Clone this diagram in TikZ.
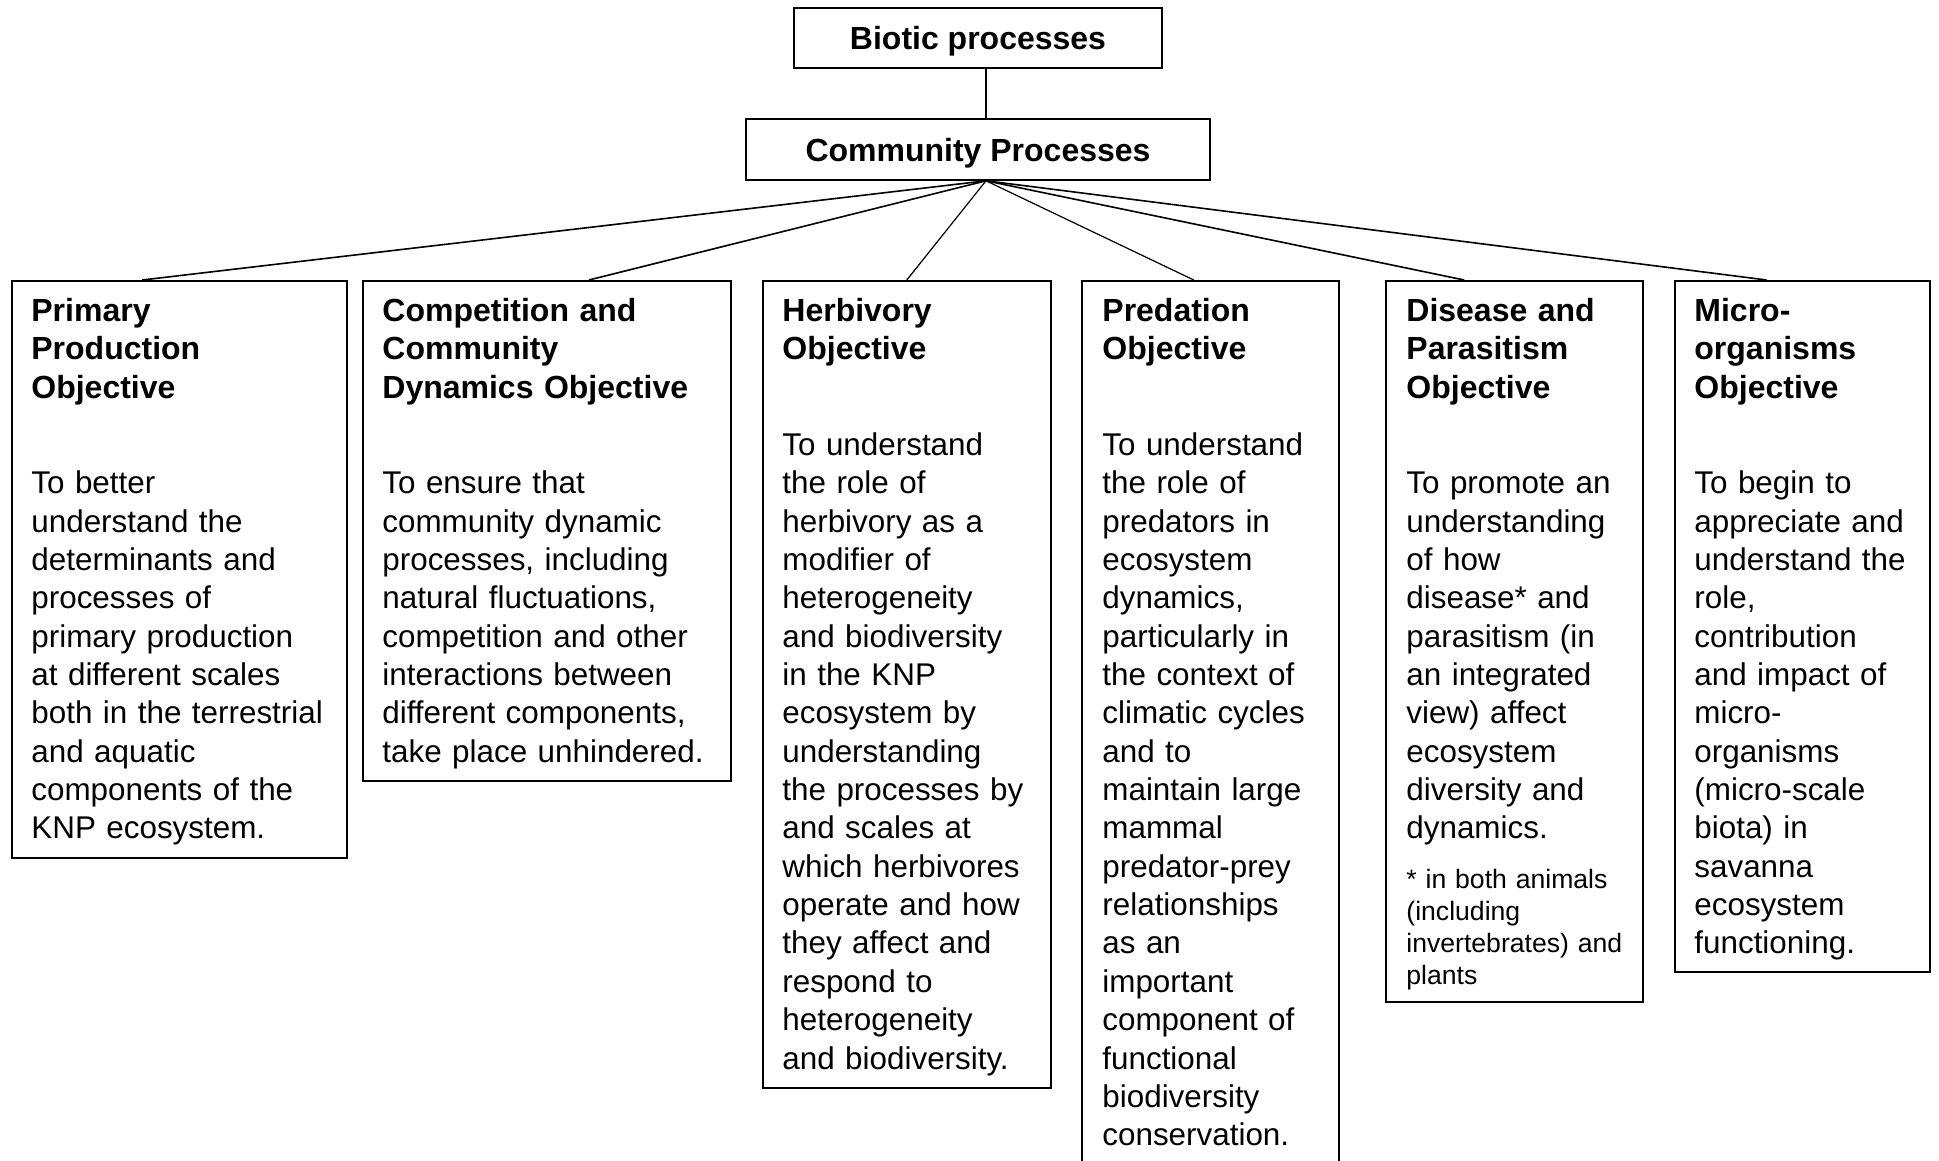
\documentclass[tikz,border=0pt]{standalone}
\usepackage{fontspec}
\setmainfont{Liberation Sans}
\usetikzlibrary{calc}

\newcommand{\objhead}[1]{{\fontsize{16}{19.17}\selectfont\bfseries #1}}

\tikzset{
  headbox/.style={draw, line width=0.8pt, inner sep=0pt, text height=11.8pt, text depth=0pt,
    font=\bfseries\fontsize{16}{19}\selectfont},
  objbox/.style={draw, line width=0.8pt, anchor=north west, inner sep=0pt},
  objtext/.style={anchor=base west, inner sep=0pt, align=left, text width=#1,
    font=\fontsize{15.7}{19.17}\selectfont},
  notetext/.style={anchor=base west, inner sep=0pt, align=left, text width=#1,
    font=\fontsize{13.3}{16}\selectfont},
  link/.style={line width=0.8pt}
}

\begin{document}
\begin{tikzpicture}[x=0.5pt, y=-0.5pt]
    \useasboundingbox (0,0) rectangle (1939,1161);
    \clip (0,0) rectangle (1939,1161);

    % Top of the hierarchy
    \node[headbox, minimum width=184pt, minimum height=30pt] (bio) at (978,38) {Biotic processes};
    \node[headbox, minimum width=232pt, minimum height=30.5pt] (comm) at (978,149.5) {Community Processes};
    \coordinate (hub) at ([xshift=4pt]comm.south);
    \draw[line width=0.6pt] (bio.south -| hub) -- (comm.north -| hub);

    % Objective boxes
    \node[objbox, minimum width=167.5pt, minimum height=288.5pt] (prim) at (11,280) {};
    \node[objbox, minimum width=184pt, minimum height=250pt] (comp) at (362,280) {};
    \node[objbox, minimum width=144pt, minimum height=403.5pt] (herb) at (762,280) {};
    \node[objbox, minimum width=128.5pt, minimum height=445pt] (pred) at (1081,280) {};
    \node[objbox, minimum width=128.5pt, minimum height=360.5pt] (dis) at (1385,280) {};
    \node[objbox, minimum width=127.5pt, minimum height=345.5pt] (micro) at (1674,280) {};

    % Links from the hub
    \draw[link] (hub) -- ($(prim.north west)!0.39!(prim.north east)$);
    \draw[link] (hub) -- ($(comp.north west)!0.614!(comp.north east)$);
    \draw[link, line width=0.6pt] (hub) -- (herb.north);
    \draw[link, line width=0.6pt] (hub) -- ($(pred.north west)!0.436!(pred.north east)$);
    \draw[link] (hub) -- ($(dis.north west)!0.306!(dis.north east)$);
    \draw[link] (hub) -- ($(micro.north west)!0.361!(micro.north east)$);

    % Texts
    \node[objtext=152pt] (primtxt) at ($(prim.north west)+(20,41.5)$) {%
      \objhead{Primary}\\ \objhead{Production}\\ \objhead{Objective}\\[28.7pt]
      To better\\ understand the\\ determinants and\\ processes of\\
      primary production\\ at different scales\\ both in the terrestrial\\
      and aquatic\\ components of the\\ KNP ecosystem.};
    \node[objtext=169pt] (comptxt) at ($(comp.north west)+(20,41.5)$) {%
      \objhead{Competition and}\\ \objhead{Community}\\ \objhead{Dynamics Objective}\\[28.7pt]
      To ensure that\\ community dynamic\\ processes, including\\
      natural fluctuations,\\ competition and other\\ interactions between\\
      different components,\\ take place unhindered.};
    \node[objtext=129pt] (herbtxt) at ($(herb.north west)+(20,41.5)$) {%
      \objhead{Herbivory}\\ \objhead{Objective}\\[28.7pt]
      To understand\\ the role of\\ herbivory as a\\ modifier of\\
      heterogeneity\\ and biodiversity\\ in the KNP\\ ecosystem by\\
      understanding\\ the processes by\\ and scales at\\ which herbivores\\
      operate and how\\ they affect and\\ respond to\\ heterogeneity\\
      and biodiversity.};
    \node[objtext=113pt] (predtxt) at ($(pred.north west)+(21,41.5)$) {%
      \objhead{Predation}\\ \objhead{Objective}\\[28.7pt]
      To understand\\ the role of\\ predators in\\ ecosystem\\ dynamics,\\
      particularly in\\ the context of\\ climatic cycles\\ and to\\
      maintain large\\ mammal\\ predator-prey\\ relationships\\ as an\\
      important\\ component of\\ functional\\ biodiversity\\ conservation.};
    \node[objtext=113pt] (distxt) at ($(dis.north west)+(21,41.5)$) {%
      \objhead{Disease and}\\ \objhead{Parasitism}\\ \objhead{Objective}\\[28.7pt]
      To promote an\\ understanding\\ of how\\ disease* and\\
      parasitism (in\\ an integrated\\ view) affect\\ ecosystem\\
      diversity and\\ dynamics.};
    \node[notetext=113pt] (disnote) at ($(dis.north west)+(21,608)$) {%
      * in both animals\\ (including\\ invertebrates) and\\ plants};
    \node[objtext=112pt] (microtxt) at ($(micro.north west)+(20,41.5)$) {%
      \objhead{Micro-}\\ \objhead{organisms}\\ \objhead{Objective}\\[28.7pt]
      To begin to\\ appreciate and\\ understand the\\ role,\\
      contribution\\ and impact of\\ micro-\\ organisms\\ (micro-scale\\
      biota) in\\ savanna\\ ecosystem\\ functioning.};
\end{tikzpicture}
\end{document}
